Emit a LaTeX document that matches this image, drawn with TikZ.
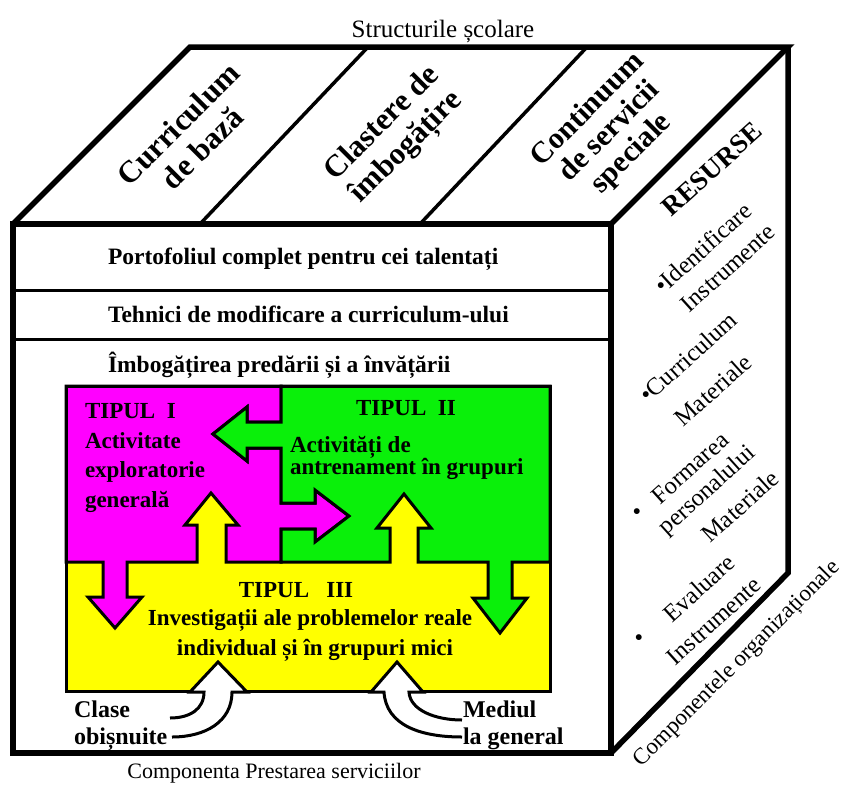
\documentclass[tikz,border=0pt]{standalone}
\usepackage{fontspec}
\setmainfont{Liberation Serif}
\definecolor{magfill}{RGB}{255,0,255}
\definecolor{grnfill}{RGB}{10,240,10}
\definecolor{yelfill}{RGB}{255,255,0}
\begin{document}
\begin{tikzpicture}[x=1pt,y=-1pt,
  cubeedge/.style={line width=5.5pt, line join=miter},
  divline/.style={line width=3.5pt},
  facerule/.style={line width=3pt},
  region/.style={draw=black, line width=3pt, line join=miter},
  warrow/.style={fill=white, draw=black, line width=3pt, line join=miter},
  txt/.style={inner sep=0pt, outer sep=0pt},
  toplabel/.style={txt, align=center, rotate=45,
    font=\bfseries\fontsize{31}{34}\selectfont},
  sidelabel/.style={txt, rotate=42, font=\fontsize{24.5}{26}\selectfont},
  frontlabel/.style={txt, anchor=base west, font=\bfseries\fontsize{23.5}{26}\selectfont},
  boxlabel/.style={txt, anchor=base west, font=\bfseries\fontsize{23}{26}\selectfont},
  caption/.style={txt, anchor=base, font=\fontsize{25}{28}\selectfont}
]
\useasboundingbox (0,0) rectangle (849,785);

% ---------- coloured panel of the front face ----------
\fill[yelfill] (66,386) rectangle (550,691);
% Type I region (magenta) with its arrows
\path[region, fill=magfill]
  (66,386) -- (281,386) -- (281,422) -- (247,422) -- (247,407) -- (213,434)
  -- (247,461) -- (247,448) -- (281,448) -- (281,503) -- (315,503) -- (315,490)
  -- (349,516) -- (315,542) -- (315,529) -- (281,529) -- (281,562)
  -- (226,562) -- (226,525) -- (238,525) -- (211,493) -- (185,525) -- (197,525)
  -- (197,562) -- (127,562) -- (127,597) -- (142,597) -- (115,628) -- (88,597)
  -- (103,597) -- (103,562) -- (66,562) -- cycle;
% Type II region (green) with its arrows
\path[region, fill=grnfill]
  (281,386) -- (550,386) -- (550,562) -- (512,562) -- (512,598) -- (527,598)
  -- (500,633) -- (473,598) -- (488,598) -- (488,562) -- (418,562) -- (418,528)
  -- (431,528) -- (404,494) -- (377,528) -- (390,528) -- (390,562) -- (281,562)
  -- (281,529) -- (315,529) -- (315,542) -- (349,516) -- (315,490) -- (315,503)
  -- (281,503) -- (281,448) -- (247,448) -- (247,461) -- (213,434) -- (247,407)
  -- (247,422) -- (281,422) -- cycle;
\draw[region] (66,386) rectangle (550,691);

% curved inflow arrows
\path[warrow] (170,718) .. controls (190,718) and (204,709) .. (204,692)
  -- (190,692) -- (218,662) -- (247,692) -- (232,692)
  .. controls (232,722) and (205,737) .. (172,737);
\path[warrow] (462,720) .. controls (435,720) and (410,710) .. (409,692)
  -- (423,692) -- (397,662) -- (371,692) -- (384,692)
  .. controls (386,725) and (420,737) .. (462,737);

% ---------- cube ----------
\draw[cubeedge] (13,224) rectangle (611,753);
\draw[cubeedge] (13,224) -- (190,47) -- (788,47) -- (611,224);
\draw[cubeedge] (788,47) -- (788,573) -- (611,753);
\draw[divline] (368,47) -- (200,224);
\draw[divline] (587,47) -- (420,224);
\draw[facerule] (13,290) -- (611,290);
\draw[facerule] (13,339) -- (611,339);

% ---------- captions ----------
\node[caption] (scol) at (443,37) {Structurile școlare};
\node[caption, font=\fontsize{22}{24}\selectfont] (prest) at (274,778) {Componenta Prestarea serviciilor};
\node[txt, rotate=45, font=\fontsize{23}{26}\selectfont] (org) at (737,664) {Componentele organizaționale};

% top face
\node[toplabel] (curr) at (190,136) {Curriculum\\de bază};
\node[toplabel] (clast) at (395,136) {Clastere de\\îmbogățire};
\node[toplabel, font=\bfseries\fontsize{30}{31}\selectfont] (cont) at (610,132) {Continuum\\de servicii\\speciale};

% right face
\node[txt, rotate=42, font=\bfseries\fontsize{27}{28}\selectfont] (res) at (712,169) {RESURSE};
\node[sidelabel] (ident) at (703,248) {•Identificare};
\node[sidelabel] (instr1) at (728,268) {Instrumente};
\node[sidelabel] (currm) at (688,357) {•Curriculum};
\node[sidelabel] (mat1) at (713,390) {Materiale};
\node[sidelabel] (bul3) at (639,514) {•};
\node[sidelabel] (form) at (690,468) {Formarea};
\node[sidelabel] (pers) at (708,491) {personalului};
\node[sidelabel] (mat2) at (740,506) {Materiale};
\node[sidelabel] (bul4) at (641,640) {•};
\node[sidelabel] (eval) at (699,588) {Evaluare};
\node[sidelabel] (instr2) at (714,621) {Instrumente};

% front face rows
\node[frontlabel] (port) at (108,264) {Portofoliul complet pentru cei talentați};
\node[frontlabel] (tehn) at (108,322) {Tehnici de modificare a curriculum-ului};
\node[frontlabel] (imbo) at (108,372) {Îmbogățirea predării și a învățării};

% coloured panel texts
\node[boxlabel] (t1) at (85,418) {TIPUL\ \ I};
\node[boxlabel] (t1a) at (85,448) {Activitate};
\node[boxlabel] (t1b) at (85,477) {exploratorie};
\node[boxlabel] (t1c) at (85,507) {generală};
\node[boxlabel, anchor=base] (t2) at (406,415) {TIPUL\ \ II};
\node[boxlabel] (t2a) at (290,452) {Activități de};
\node[boxlabel] (t2b) at (290,474) {antrenament\ în grupuri};
\node[boxlabel, anchor=base] (t3) at (296,597) {TIPUL\ \ \ III};
\node[boxlabel, anchor=base] (t3a) at (310,625) {Investigații ale problemelor reale};
\node[boxlabel, anchor=base] (t3b) at (315,655) {individual și în grupuri mici};

% labels of the inflow arrows
\node[boxlabel, font=\bfseries\fontsize{24}{26}\selectfont] (clase) at (74,717) {Clase};
\node[boxlabel, font=\bfseries\fontsize{24}{26}\selectfont] (obis) at (74,744) {obișnuite};
\node[boxlabel, font=\bfseries\fontsize{24}{26}\selectfont] (med) at (463,717) {Mediul};
\node[boxlabel, font=\bfseries\fontsize{24}{26}\selectfont] (lagen) at (463,744) {la general};
\end{tikzpicture}
\end{document}
